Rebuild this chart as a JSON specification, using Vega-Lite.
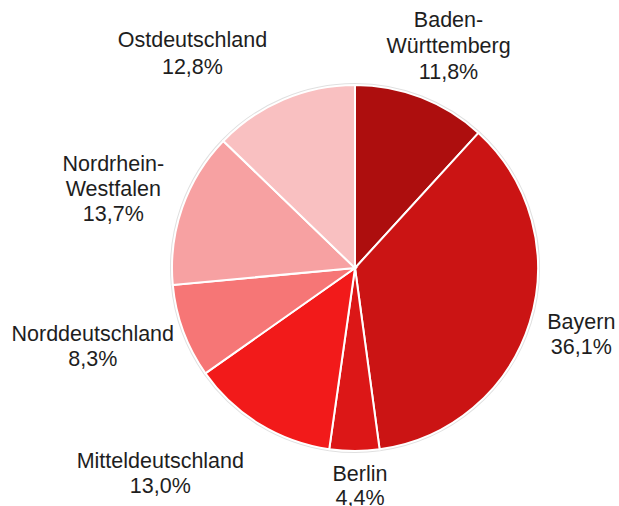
{
  "$schema": "https://vega.github.io/schema/vega-lite/v6.json",
  "autosize": {"type": "none"},
  "width": 528,
  "height": 476,
  "padding": {"left": 91, "top": 30, "right": 0, "bottom": 0},
  "background": "white",
  "config": {"view": {"stroke": null}},
  "data": {
    "values": [
      {"name": "Baden-Württemberg", "value": 11.8, "label": "Baden-\nWürttemberg\n11,8%"},
      {"name": "Bayern", "value": 36.1, "label": "Bayern\n36,1%"},
      {"name": "Berlin", "value": 4.4, "label": "Berlin\n4,4%"},
      {"name": "Mitteldeutschland", "value": 13.0, "label": "Mitteldeutschland\n13,0%"},
      {"name": "Norddeutschland", "value": 8.3, "label": "Norddeutschland\n8,3%"},
      {"name": "Nordrhein-Westfalen", "value": 13.7, "label": "Nordrhein-\nWestfalen\n13,7%"},
      {"name": "Ostdeutschland", "value": 12.8, "label": "Ostdeutschland\n12,8%"}
    ]
  },
  "transform": [
    {"window": [{"op": "sum", "field": "value", "as": "cum"}], "sort": [{"field": "name", "order": "ascending"}], "frame": [null, 0]},
    {"calculate": "datum.cum - datum.value", "as": "start"},
    {"calculate": "datum.cum - datum.value / 2", "as": "mid"}
  ],
  "layer": [
    {
      "mark": {"type": "arc", "radius": 185, "fill": "#e0e0e0", "stroke": null},
      "encoding": {
        "theta": {"field": "start", "type": "quantitative", "scale": {"domain": [0, 100.1]}},
        "theta2": {"field": "cum"}
      }
    },
    {
      "mark": {"type": "arc", "radius": 183, "stroke": "white", "strokeWidth": 2},
      "encoding": {
        "theta": {"field": "start", "type": "quantitative", "scale": {"domain": [0, 100.1]}},
        "theta2": {"field": "cum"},
        "color": {
          "field": "name", "type": "nominal", "legend": null,
          "scale": {
            "domain": ["Baden-Württemberg", "Bayern", "Berlin", "Mitteldeutschland", "Norddeutschland", "Nordrhein-Westfalen", "Ostdeutschland"],
            "range": ["#AD0E0E", "#CB1414", "#DC1717", "#F21A1A", "#F67676", "#F7A1A2", "#F9C0C1"]
          }
        }
      }
    },
    {
      "transform": [{"filter": "datum.name === 'Baden-Württemberg'"}],
      "mark": {"type": "text", "radius": 240, "thetaOffset": 0.03, "dy": -26, "lineBreak": "\n", "font": "Liberation Sans", "fontSize": 21.5, "lineHeight": 26, "align": "center", "baseline": "middle", "color": "#1e1e1e"},
      "encoding": {"theta": {"field": "mid", "type": "quantitative", "scale": {"domain": [0, 100.1]}}, "text": {"field": "label"}}
    },
    {
      "transform": [{"filter": "datum.name === 'Bayern'"}],
      "mark": {"type": "text", "radius": 236, "thetaOffset": -0.015, "dy": -12.5, "lineBreak": "\n", "font": "Liberation Sans", "fontSize": 21.5, "lineHeight": 25, "align": "center", "baseline": "middle", "color": "#1e1e1e"},
      "encoding": {"theta": {"field": "mid", "type": "quantitative", "scale": {"domain": [0, 100.1]}}, "text": {"field": "label"}}
    },
    {
      "transform": [{"filter": "datum.name === 'Berlin'"}],
      "mark": {"type": "text", "radius": 219, "thetaOffset": -0.026, "dy": -12, "lineBreak": "\n", "font": "Liberation Sans", "fontSize": 21.5, "lineHeight": 24, "align": "center", "baseline": "middle", "color": "#1e1e1e"},
      "encoding": {"theta": {"field": "mid", "type": "quantitative", "scale": {"domain": [0, 100.1]}}, "text": {"field": "label"}}
    },
    {
      "transform": [{"filter": "datum.name === 'Mitteldeutschland'"}],
      "mark": {"type": "text", "radius": 284, "thetaOffset": 0.206, "dy": -12.5, "lineBreak": "\n", "font": "Liberation Sans", "fontSize": 21.5, "lineHeight": 25, "align": "center", "baseline": "middle", "color": "#1e1e1e"},
      "encoding": {"theta": {"field": "mid", "type": "quantitative", "scale": {"domain": [0, 100.1]}}, "text": {"field": "label"}}
    },
    {
      "transform": [{"filter": "datum.name === 'Norddeutschland'"}],
      "mark": {"type": "text", "radius": 274, "thetaOffset": 0.059, "dy": -12.5, "lineBreak": "\n", "font": "Liberation Sans", "fontSize": 21.5, "lineHeight": 25, "align": "center", "baseline": "middle", "color": "#1e1e1e"},
      "encoding": {"theta": {"field": "mid", "type": "quantitative", "scale": {"domain": [0, 100.1]}}, "text": {"field": "label"}}
    },
    {
      "transform": [{"filter": "datum.name === 'Nordrhein-Westfalen'"}],
      "mark": {"type": "text", "radius": 254, "thetaOffset": -0.025, "dy": -25, "lineBreak": "\n", "font": "Liberation Sans", "fontSize": 21.5, "lineHeight": 25, "align": "center", "baseline": "middle", "color": "#1e1e1e"},
      "encoding": {"theta": {"field": "mid", "type": "quantitative", "scale": {"domain": [0, 100.1]}}, "text": {"field": "label"}}
    },
    {
      "transform": [{"filter": "datum.name === 'Ostdeutschland'"}],
      "mark": {"type": "text", "radius": 268, "thetaOffset": -0.25, "dy": -13.5, "lineBreak": "\n", "font": "Liberation Sans", "fontSize": 21.5, "lineHeight": 27, "align": "center", "baseline": "middle", "color": "#1e1e1e"},
      "encoding": {"theta": {"field": "mid", "type": "quantitative", "scale": {"domain": [0, 100.1]}}, "text": {"field": "label"}}
    }
  ]
}
